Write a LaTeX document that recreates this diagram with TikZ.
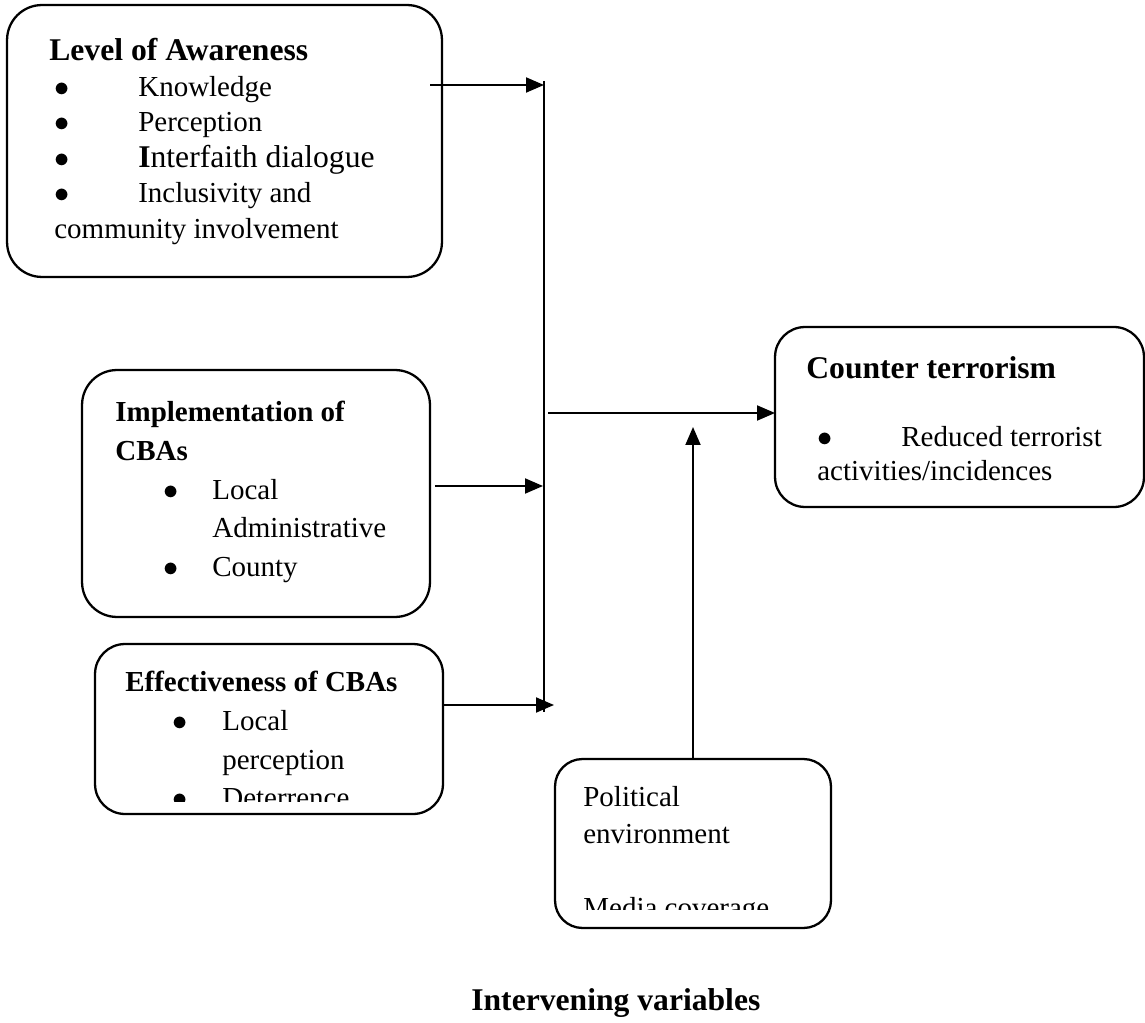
\documentclass[tikz,border=0pt]{standalone}
\usepackage{fontspec}
\setmainfont{Liberation Serif}
\usetikzlibrary{arrows.meta}

% bullet with indent and gap to the item text
\newcommand{\bul}[2]{\hspace*{#1}\makebox[#2][l]{$\bullet$}}

\tikzset{
  box/.style={draw, line width=1.3pt, rounded corners=0.7cm, inner sep=0pt, outer sep=0pt},
  txt/.style={anchor=north west, inner sep=0pt, align=left},
  link/.style={line width=1.1pt, -{Triangle[length=0.36cm,width=0.3cm]}},
}

\begin{document}
\begin{tikzpicture}[x=0.02cm, y=-0.02cm]
\useasboundingbox (0,0) rectangle (1145,1023);

% boxes
\node [box, minimum width=8.7cm, minimum height=5.44cm] (aware) at (224.5,141) {};
\node [box, minimum width=6.96cm, minimum height=4.94cm] (impl) at (256,493.5) {};
\node [box, minimum width=6.96cm, minimum height=3.4cm, rounded corners=0.6cm] (eff) at (269,729) {};
\node [box, minimum width=7.38cm, minimum height=3.6cm, rounded corners=0.6cm] (ct) at (959.5,417) {};
\node [box, minimum width=5.52cm, minimum height=3.38cm, rounded corners=0.55cm] (pol) at (693,843.5) {};

% box texts
\node [txt, font=\fontsize{16.5}{20.2}\selectfont] (awaretext) at (49,38) {%
{\fontsize{18}{20.2}\selectfont\bfseries Level of Awareness}\\
\bul{0.1cm}{1.68cm}Knowledge\\
\bul{0.1cm}{1.68cm}Perception\\
\bul{0.1cm}{1.68cm}{\fontsize{18}{20.2}\selectfont\textbf{I}nterfaith dialogue}\\
\bul{0.1cm}{1.68cm}Inclusivity and\\
\hspace*{0.1cm}community involvement};

\node [txt, font=\fontsize{16.5}{22}\selectfont] (impltext) at (115,401) {%
\textbf{Implementation of}\\
\textbf{CBAs}\\
\bul{0.96cm}{0.98cm}Local\\
\hspace*{1.94cm}Administrative\\
\bul{0.96cm}{0.98cm}County};

\begin{scope}
\clip (95,644) rectangle (443,801);
\node [txt, font=\fontsize{16.5}{22}\selectfont] (efftext) at (125,671) {%
\textbf{Effectiveness of CBAs}\\
\bul{0.94cm}{1cm}Local\\
\hspace*{1.94cm}perception\\
\bul{0.94cm}{1cm}Deterrence};
\end{scope}

\node [txt, font=\fontsize{16.5}{19.3}\selectfont] (cttext) at (806,356) {%
{\fontsize{18}{19.3}\selectfont\bfseries Counter terrorism}\\[19.3pt]
\bul{0.22cm}{1.68cm}Reduced terrorist\\
\hspace*{0.22cm}activities/incidences};

\begin{scope}
\clip (555,759) rectangle (831,909);
\node [txt, font=\fontsize{16.5}{21}\selectfont] (poltext) at (583,786) {%
Political\\
environment\\[21pt]
Media coverage};
\end{scope}

\node [anchor=base west, inner sep=0pt, font=\fontsize{18}{20}\selectfont\bfseries] (ivlabel) at (471,1010) {Intervening variables};

% connectors
\coordinate (busTop) at (544,81);
\coordinate (busBot) at (544,712);
\coordinate (awOut) at (430,85);
\coordinate (awIn) at (544,85);
\coordinate (implIn) at (543,486);
\coordinate (effIn) at (554,705);
\coordinate (mainOut) at (548,413);
\coordinate (upTip) at (693,427);

\draw [line width=1.1pt] (busTop) -- (busBot);
\draw [link] (awOut) -- (awIn);
\draw [link] ([xshift=0.1cm]impl.east |- implIn) -- (implIn);
\draw [link] (eff.east |- effIn) -- (effIn);
\draw [link] (mainOut) -- (ct.west |- mainOut);
\draw [link] (pol.north) -- (upTip);
\end{tikzpicture}
\end{document}
